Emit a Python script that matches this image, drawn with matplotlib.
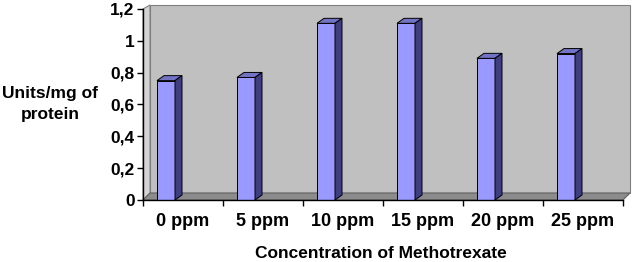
import matplotlib.pyplot as plt
from matplotlib.patches import Polygon, Rectangle
from matplotlib.ticker import FixedLocator

plt.rcParams['font.family'] = ['Liberation Sans', 'DejaVu Sans']

# data
categories = ['0 ppm', '5 ppm', '10 ppm', '15 ppm', '20 ppm', '25 ppm']
units = [0.75, 0.77, 1.11, 1.11, 0.89, 0.92]
yticks = [0, 0.2, 0.4, 0.6, 0.8, 1.0, 1.2]
ytick_labels = ['0', '0,2', '0,4', '0,6', '0,8', '1', '1,2']

W, H = 633, 262
fig = plt.figure(figsize=(W / 100, H / 100), dpi=100)
# axes box in pixels: x 143..623, y 9..200 (from top)
ax = fig.add_axes([143 / W, (H - 200) / H, 480 / W, 191 / H])
ax.set_xlim(-0.5, 5.5)
ax.set_ylim(0, 1.2)
ppy = 191 / 1.2  # pixels per unit on y

# 3D depth of the wall/floor
dx = 7 / 80
dy = 7 / ppy
top = 1.2 + 4 / ppy

wall = Polygon([(-0.5 + dx, dy), (5.5 + dx, dy), (5.5 + dx, top), (-0.5 + dx, top)],
               closed=True, facecolor='#C0C0C0', edgecolor='#808080', lw=0.8,
               clip_on=False, zorder=0)
side = Polygon([(-0.5, 0), (-0.5 + dx, dy), (-0.5 + dx, top), (-0.5, 1.2)],
               closed=True, facecolor='#D4D4D4', edgecolor='#808080', lw=0.8,
               clip_on=False, zorder=0)
floor = Polygon([(-0.5, 0), (5.5, 0), (5.5 + dx, dy), (-0.5 + dx, dy)],
                closed=True, facecolor='#8C8C8C', edgecolor='#606060', lw=0.8,
                clip_on=False, zorder=0)
for p in (wall, side, floor):
    ax.add_patch(p)

# bars drawn as front face + top + side
bw = 0.225
bdx = 7 / 80
bdy = 5 / ppy
for i, v in enumerate(units):
    x0 = i - 0.325
    ax.add_patch(Rectangle((x0, 0), bw, v, facecolor='#9999FF',
                           edgecolor='black', lw=0.7, zorder=3))
    ax.add_patch(Polygon([(x0, v), (x0 + bw, v), (x0 + bw + bdx, v + bdy), (x0 + bdx, v + bdy)],
                         closed=True, facecolor='#7373C6', edgecolor='black', lw=0.7, zorder=3))
    ax.add_patch(Polygon([(x0 + bw, 0), (x0 + bw + bdx, bdy), (x0 + bw + bdx, v + bdy), (x0 + bw, v)],
                         closed=True, facecolor='#3F3F80', edgecolor='black', lw=0.7, zorder=3))

ax.set_facecolor('none')
for s in ('top', 'right'):
    ax.spines[s].set_visible(False)
ax.spines['left'].set_linewidth(1.0)
ax.spines['bottom'].set_linewidth(1.0)
ax.spines['left'].set_zorder(4)
ax.spines['bottom'].set_zorder(4)

ax.set_yticks(yticks)
ax.set_yticklabels(ytick_labels, fontsize=12.5, fontweight='bold')
ax.tick_params(axis='y', length=4, width=1, pad=2)

ax.set_xticks(range(len(categories)))
ax.set_xticklabels(categories, fontsize=13, fontweight='bold')
ax.xaxis.set_minor_locator(FixedLocator([i - 0.5 for i in range(len(categories) + 1)]))
ax.tick_params(axis='x', which='major', length=0, pad=9)
ax.tick_params(axis='x', which='minor', length=4, width=1)

fig.text(50 / W, 1 - 104 / H, 'Units/mg of\nprotein', ha='center', va='center',
         fontsize=12.5, fontweight='bold', linespacing=1.55)
fig.text(381 / W, 1 - 253 / H, 'Concentration of Methotrexate', ha='center', va='center',
         fontsize=12.5, fontweight='bold')

fig.savefig('out.png', dpi=100)
